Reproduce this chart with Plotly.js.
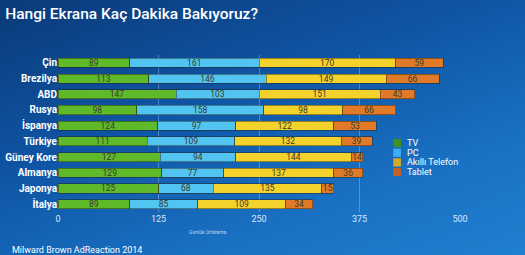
<!DOCTYPE html>
<html>
<head>
<meta charset="utf-8">
<script src="https://cdn.plot.ly/plotly-3.0.1.min.js"></script>
<style>
html,body{margin:0;padding:0;}
body{width:525px;height:255px;overflow:hidden;
background:linear-gradient(160deg,#0b3a78 0%,#0f55a5 40%,#1a72c4 75%,#1f7fd0 100%);}
#chart{width:525px;height:255px;}
</style>
</head>
<body>
<div id="chart"></div>
<script>
const countries = ["Çin","Brezilya","ABD","Rusya","İspanya","Türkiye","Güney Kore","Almanya","Japonya","İtalya"];
const tv      = [89,113,147,98,124,111,127,129,125,89];
const pc      = [161,146,103,158,97,109,94,77,68,85];
const phone   = [170,149,151,98,122,132,144,137,135,109];
const tablet  = [59,66,43,66,53,39,14,36,15,34];
const seriesNames = ["TV","PC","Akıllı Telefon","Tablet"];
const xTicks = [0,125,250,375,500];

const colors = ["#5fba2a","#52c4f2","#f4d22c","#e07a28"];
const legendColors = ["#3f921f","#3cb0f0","#d6ab24","#c4622a"];
const data = [tv,pc,phone,tablet].map((vals,i)=>({
  type:"bar", orientation:"h",
  name: seriesNames[i],
  y: countries, x: vals,
  text: vals.map(String),
  textposition:"inside", insidetextanchor:"middle",
  textangle:0, constraintext:"none",
  textfont:{family:"Roboto, sans-serif", size:8.5, color:"#3a3a2a"},
  marker:{color:colors[i], line:{color:"rgba(40,30,10,0.45)", width:1}},
  hoverinfo:"none", showlegend:false
}));

// custom compact legend
const legShapes = [], legAnn = [];
seriesNames.forEach((n,i)=>{
  const yc = 0.439 - i*0.0615;
  legShapes.push({type:"rect", xref:"paper", yref:"paper",
    x0:0.834, x1:0.853, y0:yc-0.026, y1:yc+0.026,
    fillcolor:legendColors[i], line:{width:0}});
  legAnn.push({text:n, xref:"paper", yref:"paper", x:0.864, y:yc, xanchor:"left", yanchor:"middle",
    showarrow:false, font:{family:"Roboto, sans-serif", size:9, color:"#ffffff"}});
});

const layout = {
  width:525, height:255,
  paper_bgcolor:"rgba(0,0,0,0)", plot_bgcolor:"rgba(0,0,0,0)",
  margin:{l:58, r:65, t:55, b:43},
  barmode:"stack", bargap:0.42,
  showlegend:false,
  title:{text:"Hangi Ekrana Kaç Dakika Bakıyoruz?", x:0.01, xanchor:"left", y:0.945, yanchor:"middle",
    font:{family:"Roboto, sans-serif", size:15.5, color:"#ffffff", weight:500}},
  xaxis:{range:[0,500], tickvals:xTicks, ticktext:xTicks.map(String),
    showgrid:true, gridcolor:"rgba(190,220,255,0.35)", gridwidth:1,
    zeroline:false, showline:false,
    tickfont:{family:"Roboto, sans-serif", size:9, color:"#d8e8f8"}, ticklen:0, ticks:""},
  yaxis:{autorange:"reversed", showgrid:false, zeroline:false, ticks:"", ticklen:4, tickcolor:"rgba(0,0,0,0)",
    tickfont:{family:"Roboto, sans-serif", size:10, color:"#ffffff", weight:700}},
  shapes: legShapes,
  annotations:[
    {text:"Günlük Ortalama", xref:"paper", yref:"paper", x:0.32, y:-0.16, showarrow:false,
     font:{family:"Roboto, sans-serif", size:5, color:"#bcd6f0"}},
    {text:"Milward Brown AdReaction 2014", xref:"paper", yref:"paper", x:-0.12, xanchor:"left", y:-0.245, yanchor:"middle", showarrow:false,
     font:{family:"Roboto, sans-serif", size:9, color:"#ffffff"}}
  ].concat(legAnn)
};
Plotly.newPlot("chart", data, layout, {displayModeBar:false, staticPlot:true});
</script>
</body>
</html>
